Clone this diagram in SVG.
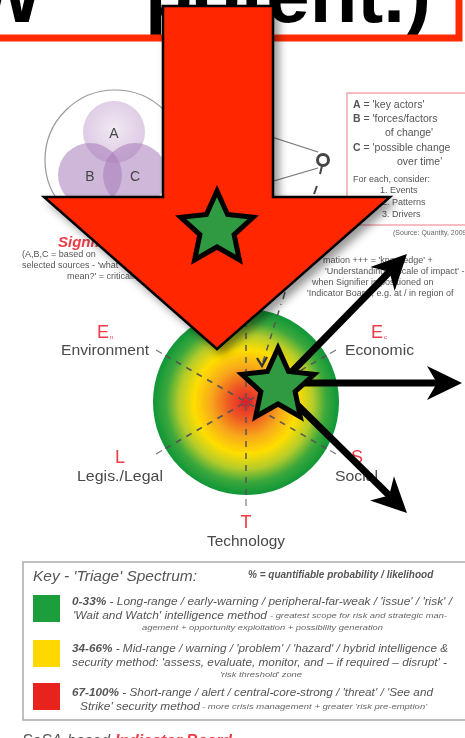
<svg xmlns="http://www.w3.org/2000/svg" width="465" height="738" viewBox="0 0 465 738">
<style>
text {font-family: "Liberation Sans", Arial, sans-serif;}
.lbl {font-size:15px; fill:#4a4a4a;}
.red {fill:#f03a46;}
.sm {font-size:9px; fill:#555;}
.bx {font-size:10.5px; fill:#555;}
.key {font-size:10.5px; font-style:italic; fill:#555;}
.keys {font-size:6.5px; font-style:italic; fill:#666;}
.spoke {stroke:#555; stroke-width:1.5; stroke-dasharray:6 6; fill:none;}
.tick {stroke:#777; stroke-width:1.2; fill:none;}
.conn {stroke:#000; stroke-width:7; fill:none; marker-end:url(#head);}
.star {fill:#2f9a42; stroke:#000; stroke-width:5; stroke-linejoin:miter;}
.venn {stroke:none;}
</style>
<defs>
  <radialGradient id="disc" cx="0.5" cy="0.5" r="0.5">
    <stop offset="0" stop-color="#e6222b"/>
    <stop offset="0.18" stop-color="#ee5524"/>
    <stop offset="0.38" stop-color="#f8a91a"/>
    <stop offset="0.56" stop-color="#ffde00"/>
    <stop offset="0.72" stop-color="#b5cc2a"/>
    <stop offset="0.86" stop-color="#3ca83c"/>
    <stop offset="1" stop-color="#0f9638"/>
  </radialGradient>
  <radialGradient id="vA" cx="0.5" cy="0.45" r="0.55">
    <stop offset="0" stop-color="#f1e9f3"/>
    <stop offset="1" stop-color="#dcc8e3"/>
  </radialGradient>
  <filter id="soft" x="-5%" y="-5%" width="110%" height="110%">
    <feGaussianBlur stdDeviation="0.6"/>
  </filter>
  <filter id="shadow" x="-20%" y="-20%" width="150%" height="150%">
    <feDropShadow dx="5" dy="5" stdDeviation="4" flood-color="#000" flood-opacity="0.4"/>
  </filter>
  <marker id="head" markerUnits="userSpaceOnUse" markerWidth="37" markerHeight="36" viewBox="-36 -18 37 36" refX="-22" refY="0" orient="auto">
    <path d="M0,0 L-35,-17 L-25,0 L-35,17 Z" fill="#000"/>
  </marker>
  <path id="starShape" d="M0,-38 L10.58,-14.56 L36.14,-11.74 L17.12,5.56 L22.34,30.74 L0,18 L-22.34,30.74 L-17.12,5.56 L-36.14,-11.74 L-10.58,-14.56 Z"/>
</defs>

<rect width="465" height="738" fill="#fff"/>

<!-- title fragment and frame -->
<g id="title">
  <text y="22" font-size="78" font-weight="bold" fill="#000"><tspan x="-83">EW</tspan><tspan x="145">potent.)</tspan></text>
  <path d="M-5,38 L459,38 L459,-5" fill="none" stroke="#ff2a00" stroke-width="7"/>
</g>

<!-- faded background scene -->
<g id="scene" filter="url(#soft)">
  <circle cx="115" cy="160" r="70" fill="#fff" stroke="#999" stroke-width="1.2"/>
  <circle class="venn" cx="114" cy="132" r="31" fill="url(#vA)"/>
  <circle class="venn" cx="90" cy="175" r="32" fill="#a77bba" fill-opacity="0.55"/>
  <circle class="venn" cx="135" cy="175" r="32" fill="#a77bba" fill-opacity="0.55"/>
  <text x="114" y="138" font-size="14" fill="#444" text-anchor="middle">A</text>
  <text x="90" y="181" font-size="14" fill="#444" text-anchor="middle">B</text>
  <text x="135" y="181" font-size="14" fill="#444" text-anchor="middle">C</text>
  <path d="M250,130 L318,152 M250,188 L318,168" stroke="#777" stroke-width="1.2" fill="none"/>
  <circle cx="323" cy="160" r="5.5" fill="#fff" stroke="#444" stroke-width="3"/>
  <path d="M322,166 L320,174 M317,186 L314,194" stroke="#444" stroke-width="2" fill="none"/>

  <rect x="347" y="93" width="130" height="132" fill="#fff" stroke="#f2a8b0" stroke-width="1.5"/>
  <text class="bx" x="353" y="108"><tspan font-weight="bold">A</tspan> = 'key actors'</text>
  <text class="bx" x="353" y="122"><tspan font-weight="bold">B</tspan> = 'forces/factors</text>
  <text class="bx" x="385" y="136">of change'</text>
  <text class="bx" x="353" y="151"><tspan font-weight="bold">C</tspan> = 'possible change</text>
  <text class="bx" x="397" y="165">over time'</text>
  <text class="sm" x="353" y="182">For each, consider:</text>
  <text class="sm" x="380" y="193">1. Events</text>
  <text class="sm" x="382" y="205">2. Patterns</text>
  <text class="sm" x="382" y="217">3. Drivers</text>
  <text x="393" y="235" font-size="7" fill="#666">(Source: Quantity, 2009)</text>

  <text x="58" y="247" font-size="15" font-weight="bold" font-style="italic" class="red">Signifier</text>
  <text class="sm" x="22" y="257">(A,B,C = based on</text>
  <text class="sm" x="22" y="268">selected sources - 'what</text>
  <text class="sm" x="67" y="279">mean?' = criticality</text>
  <text class="sm" x="323" y="263">mation +++ = 'knowledge' +</text>
  <text class="sm" x="325" y="274">'Understanding' + scale of impact' -</text>
  <text class="sm" x="312" y="285">when Signifier is positioned on</text>
  <text class="sm" x="307" y="296">'Indicator Board', e.g. at / in region of</text>

  <circle cx="246" cy="402" r="93" fill="url(#disc)"/>
  <path class="spoke" d="M246,309 L246,495 M165.5,355.5 L326.5,448.5 M165.5,448.5 L326.5,355.5"/>
  <path class="tick" d="M162,353.5 L156,350 M162,450.5 L156,454 M330,353.5 L336,350 M330,450.5 L336,454 M246,499 L246,506"/>
  <path class="spoke" d="M263,362 L281,304"/>
  <path d="M283,299 L285,292" stroke="#555" stroke-width="1.5"/>
  <path d="M257,358 L262,366 L267,357" stroke="#333" stroke-width="2.2" fill="none"/>
  <path d="M240,402 L252,402 M243,397 L249,407 M249,397 L243,407" stroke="#d41f2a" stroke-width="1.2"/>

  <text x="103" y="338" font-size="18" class="red" text-anchor="middle">E</text>
  <text x="110" y="339" font-size="6" class="red">n</text>
  <text class="lbl" x="61" y="355" textLength="88" lengthAdjust="spacingAndGlyphs">Environment</text>
  <text x="377" y="338" font-size="18" class="red" text-anchor="middle">E</text>
  <text x="384" y="339" font-size="6" class="red">c</text>
  <text class="lbl" x="345" y="355" textLength="69" lengthAdjust="spacingAndGlyphs">Economic</text>
  <text x="120" y="463" font-size="18" class="red" text-anchor="middle">L</text>
  <text class="lbl" x="77" y="481" textLength="86" lengthAdjust="spacingAndGlyphs">Legis./Legal</text>
  <text x="357" y="463" font-size="18" class="red" text-anchor="middle">S</text>
  <text class="lbl" x="335" y="481" textLength="43" lengthAdjust="spacingAndGlyphs">Social</text>
  <text x="246" y="528" font-size="18" class="red" text-anchor="middle">T</text>
  <text class="lbl" x="207" y="546" textLength="78" lengthAdjust="spacingAndGlyphs">Technology</text>

  <rect x="23" y="562" width="460" height="158" fill="#fff" stroke="#aaa" stroke-width="1.5"/>
  <text x="33" y="581" font-size="14" font-style="italic" fill="#555" textLength="164" lengthAdjust="spacingAndGlyphs">Key - 'Triage' Spectrum:</text>
  <text x="248" y="578" font-size="10" font-style="italic" font-weight="bold" fill="#555">% = quantifiable probability / likelihood</text>
  <rect x="33" y="595" width="27" height="27" fill="#1e9e3c"/>
  <rect x="33" y="640" width="27" height="27" fill="#ffd800"/>
  <rect x="33" y="683" width="27" height="27" fill="#e8231f"/>
  <text class="key" x="72" y="605" textLength="380" lengthAdjust="spacingAndGlyphs"><tspan font-weight="bold">0-33%</tspan> - Long-range / early-warning / peripheral-far-weak / 'issue' / 'risk' /</text>
  <text class="key" x="73" y="619" textLength="194" lengthAdjust="spacingAndGlyphs">'Wait and Watch' intelligence method</text>
  <text class="keys" x="270" y="618" textLength="177" lengthAdjust="spacingAndGlyphs">- greatest scope for risk and strategic man-</text>
  <text class="keys" x="142" y="630" textLength="241" lengthAdjust="spacingAndGlyphs">agement + opportunity exploitation + possibility generation</text>
  <text class="key" x="72" y="652" textLength="376" lengthAdjust="spacingAndGlyphs"><tspan font-weight="bold">34-66%</tspan> - Mid-range / warning / 'problem' / 'hazard' / hybrid intelligence &amp;</text>
  <text class="key" x="72" y="666" textLength="375" lengthAdjust="spacingAndGlyphs">security method: 'assess, evaluate, monitor, and – if required – disrupt' -</text>
  <text class="keys" x="220" y="677" textLength="82" lengthAdjust="spacingAndGlyphs">'risk threshold' zone</text>
  <text class="key" x="72" y="696" textLength="361" lengthAdjust="spacingAndGlyphs"><tspan font-weight="bold">67-100%</tspan> - Short-range / alert / central-core-strong / 'threat' / 'See and</text>
  <text class="key" x="80" y="710" textLength="120" lengthAdjust="spacingAndGlyphs">Strike' security method</text>
  <text class="keys" x="202" y="709" textLength="225" lengthAdjust="spacingAndGlyphs">- more crisis management + greater 'risk pre-emption'</text>

  <text x="22" y="746" font-size="16" font-style="italic" fill="#555" textLength="88" lengthAdjust="spacingAndGlyphs">SoSA-based</text>
  <text x="115" y="746" font-size="16" font-style="italic" font-weight="bold" class="red" textLength="117" lengthAdjust="spacingAndGlyphs">Indicator Board</text>
  <text x="237" y="744" font-size="8" font-style="italic" fill="#666">- presented as 3D Model</text>
</g>

<!-- big red arrow -->
<g id="big-arrow" filter="url(#shadow)">
  <path d="M163,6 L273,6 L273,197 L390,197 L217,349 L44,197 L163,197 Z" fill="#ff2600" stroke="#000" stroke-width="2.5" stroke-linejoin="miter"/>
</g>

<g id="star-top">
  <use href="#starShape" class="star" transform="translate(217,229)"/>
</g>

<!-- connectors -->
<g id="connectors">
  <path class="conn" d="M278,386 L391.6,269.7"/>
  <path class="conn" d="M278,383 L440,383"/>
  <path class="conn" d="M278,386 L391.3,497.6"/>
</g>

<g id="star-center">
  <use href="#starShape" class="star" transform="translate(278,386)"/>
</g>
</svg>
